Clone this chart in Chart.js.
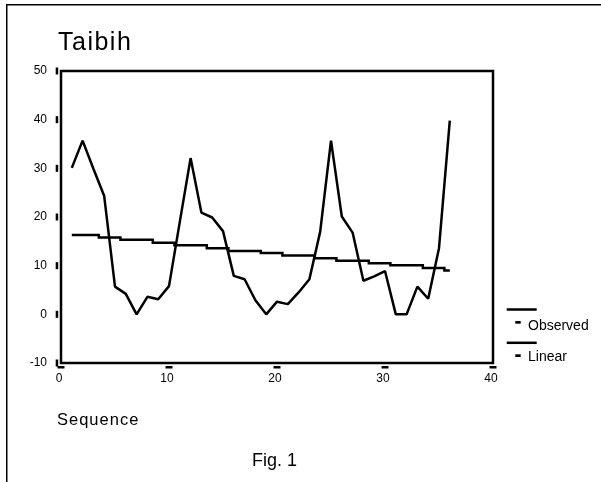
<!DOCTYPE html>
<html>
<head>
<meta charset="utf-8">
<title>Taibih</title>
<script src="https://cdn.jsdelivr.net/npm/chart.js@4.4.1/dist/chart.umd.min.js"></script>
<style>
  html, body { margin: 0; padding: 0; background: #fff; }
  #wrap { position: relative; width: 601px; height: 482px; overflow: hidden; }
  #chart { position: absolute; left: 0; top: 0; }
  .txt { position: absolute; font-family: "Liberation Sans", Arial, sans-serif; color: #000; line-height: 1; white-space: nowrap; }
</style>
</head>
<body>
<div id="wrap">
  <canvas id="chart" width="601" height="482"></canvas>
  <div class="txt" style="left:58px; top:29px; font-size:25px; letter-spacing:1.5px;">Taibih</div>
  <div class="txt" style="left:57px; top:411px; font-size:16.5px; letter-spacing:1px;">Sequence</div>
  <div class="txt" style="left:252px; top:451px; font-size:18px;">Fig. 1</div>
</div>
<script>
// Taibih - observed series with linear trend

const sequence = [1, 2, 3, 4, 5, 6, 7, 8, 9, 10, 11, 12, 13, 14, 15, 16, 17, 18,
    19, 20, 21, 22, 23, 24, 25, 26, 27, 28, 29, 30, 31, 32, 33, 34, 35, 36];
const observed = [30.1, 35.7, 29.9, 24.3, 5.7, 4.2, 0, 3.6, 3.1, 5.8, 19.0, 32.1,
    20.9, 19.9, 17.1, 7.9, 7.2, 2.9, 0, 2.6, 2.1, 4.5, 7.2, 17.0,
    35.7, 20.1, 16.8, 6.9, 7.8, 8.9, 0, 0, 5.7, 3.2, 13.6, 39.8];
// trend line as drawn (stair-stepped in the figure)
const linear = [16.3, 16.3, 16.3, 15.8, 15.8, 15.3, 15.3, 15.3, 14.7, 14.7, 14.2, 14.2,
    14.2, 13.6, 13.6, 13.0, 13.0, 13.0, 12.6, 12.6, 12.1, 12.1, 12.1, 11.5,
    11.5, 11.0, 11.0, 11.0, 10.5, 10.5, 10.1, 10.1, 10.1, 9.5, 9.5, 9.0];
const xTicks = [0, 10, 20, 30, 40];
const yTicks = [-10, 0, 10, 20, 30, 40, 50];
const seriesNames = ['Observed', 'Linear'];

const FONT = '"Liberation Sans", Arial, sans-serif';

// legend placement (right of the plot box)
const legendPos = [
    { lineY: 309.5, dashY: 321, textTop: 318 },
    { lineY: 342.8, dashY: 354.3, textTop: 349 }
];

const framePlugin = {
    id: 'frame',
    beforeDraw(chart) {
        const c = chart.ctx;
        c.save();
        c.fillStyle = '#fff';
        c.fillRect(0, 0, chart.width, chart.height);
        // outer page border (top and left visible)
        c.fillStyle = '#000';
        c.fillRect(6, 4, chart.width - 6, 1.5);
        c.fillRect(6, 4, 1.5, chart.height - 4);
        c.restore();
    },
    afterDraw(chart) {
        const c = chart.ctx;
        const a = chart.chartArea;
        const xs = chart.scales.x;
        const ys = chart.scales.y;
        c.save();
        c.strokeStyle = '#000';
        c.lineWidth = 2.5;
        c.strokeRect(a.left, a.top, a.right - a.left, a.bottom - a.top);

        // little dash-like tick marks
        c.fillStyle = '#000';
        xs.ticks.forEach(t => {
            const px = xs.getPixelForValue(t.value);
            c.fillRect(px - 3.5, a.bottom + 3, 7, 2.5);
        });
        ys.ticks.forEach(t => {
            const py = ys.getPixelForValue(t.value);
            c.fillRect(a.left - 5.3, py - 3.5, 2.5, 7);
        });

        // legend symbols
        legendPos.forEach(p => {
            c.fillRect(a.right + 13.7, p.lineY - 1.25, 30, 2.5);
            c.fillRect(a.right + 22.3, p.dashY, 5.4, 2.7);
        });
        c.restore();
    }
};

document.addEventListener('DOMContentLoaded', () => {
    const ctx = document.getElementById('chart');

    new Chart(ctx, {
        type: 'line',
        data: {
            datasets: [{
                label: seriesNames[0],
                data: sequence.map((s, i) => ({ x: s, y: observed[i] })),
                borderColor: '#000',
                borderWidth: 2.5,
                borderJoinStyle: 'bevel',
                pointRadius: 0,
                tension: 0,
                fill: false
            }, {
                label: seriesNames[1],
                data: sequence.map((s, i) => ({ x: s, y: linear[i] })),
                borderColor: '#000',
                borderWidth: 2.5,
                pointRadius: 0,
                stepped: 'middle',
                fill: false
            }]
        },
        options: {
            responsive: false,
            devicePixelRatio: 1,
            animation: false,
            layout: { padding: { left: 0, top: 71, right: 108, bottom: 89 } },
            plugins: {
                legend: { display: false },
                tooltip: { enabled: false }
            },
            scales: {
                x: {
                    type: 'linear',
                    min: 0,
                    max: 40,
                    grid: { display: false, drawTicks: false },
                    border: { display: false },
                    afterBuildTicks: s => { s.ticks = xTicks.map(v => ({ value: v })); },
                    afterFit: s => { s.height = 30; },
                    ticks: {
                        padding: 8,
                        labelOffset: -2,
                        color: '#000',
                        maxRotation: 0,
                        autoSkip: false,
                        font: { family: FONT, size: 12 }
                    }
                },
                y: {
                    min: -10,
                    max: 50,
                    grid: { display: false, drawTicks: false },
                    border: { display: false },
                    afterBuildTicks: s => { s.ticks = yTicks.map(v => ({ value: v })); },
                    afterFit: s => { s.width = 61; },
                    ticks: {
                        padding: 14,
                        color: '#000',
                        autoSkip: false,
                        font: { family: FONT, size: 12 }
                    }
                }
            }
        },
        plugins: [framePlugin]
    });

    // legend labels
    const wrap = document.getElementById('wrap');
    seriesNames.forEach((name, i) => {
        const el = document.createElement('div');
        el.className = 'txt';
        el.style.left = '528px';
        el.style.top = legendPos[i].textTop + 'px';
        el.style.fontSize = '14px';
        el.textContent = name;
        wrap.appendChild(el);
    });
});
</script>
</body>
</html>
